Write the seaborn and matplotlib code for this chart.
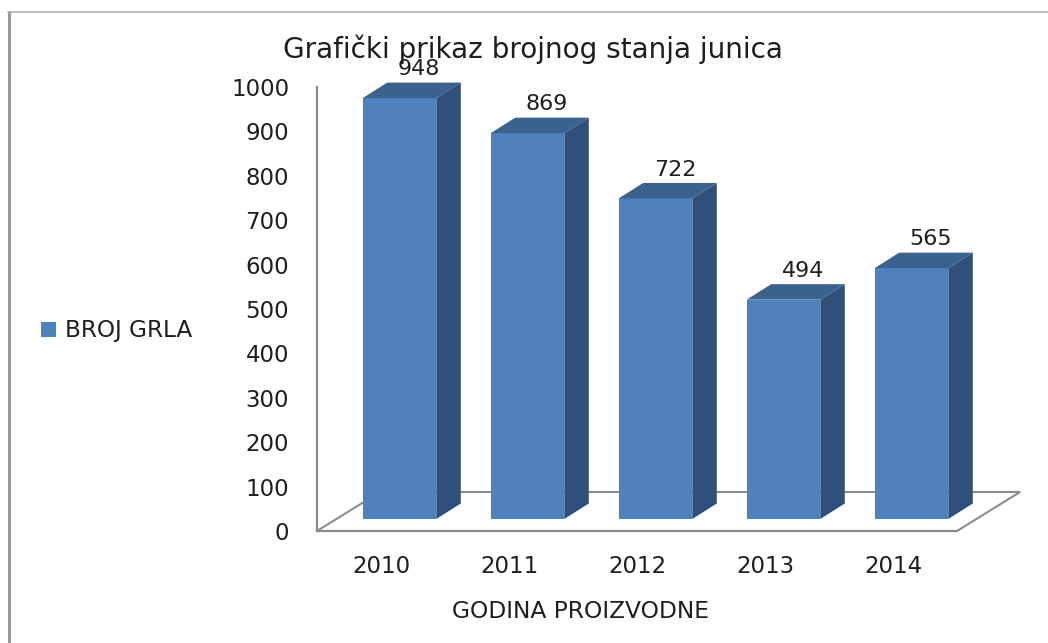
import matplotlib
matplotlib.use("Agg")
import matplotlib.pyplot as plt
from matplotlib.lines import Line2D
from matplotlib.patches import Polygon
import pandas as pd
import seaborn as sns

years = ["2010", "2011", "2012", "2013", "2014"]
broj_grla = [948, 869, 722, 494, 565]
yticks = list(range(0, 1001, 100))
title = "Grafički prikaz brojnog stanja junica"
xlabel = "GODINA PROIZVODNE"
series_name = "BROJ GRLA"

W, H = 1048, 643
FRONT, SIDE, TOP = "#4F81BD", "#2F5179", "#3B618F"
GRAY = "#8C8C8C"
TEXT = "#1E1E1E"

sns.set_theme(style="white")
plt.rcParams["font.family"] = ["DejaVu Sans"]
df = pd.DataFrame({"year": years, "value": broj_grla})
fig = plt.figure(figsize=(W / 100, H / 100), dpi=100, facecolor="white")


def px_axes(left, right, y0, y1000):
    return fig.add_axes([left / W, 1 - y0 / H, (right - left) / W, (y0 - y1000) / H])


# Front plane: axis lines, floor outline and tick labels
ax_back = px_axes(317, 957, 531, 87)
sns.barplot(data=df, x="year", y="value", ax=ax_back, alpha=0)
ax_back.set_ylim(0, 1000)
ax_back.set_yticks(yticks)
ax_back.set_xlabel(xlabel, fontsize=16.8, color=TEXT)
ax_back.xaxis.set_label_coords((580 - 317) / 640, -(611 - 531) / 444, transform=ax_back.transAxes)
ax_back.xaxis.label.set_va("center")
ax_back.set_ylabel("")
ax_back.tick_params(axis="y", length=0, pad=20, labelsize=16.5, labelcolor=TEXT)
ax_back.tick_params(axis="x", length=0, pad=17, labelsize=16.5, labelcolor=TEXT)
for name, sp in ax_back.spines.items():
    sp.set_visible(name in ("left", "bottom"))
    sp.set_color(GRAY)
    sp.set_linewidth(1.6)
floor_dx, floor_dy = 63 / 128, 39 / 0.444
ax_back.plot([-0.5, -0.5 + floor_dx, 4.5 + floor_dx, 4.5],
             [0, floor_dy, floor_dy, 0], color=GRAY, lw=1.5, clip_on=False, solid_joinstyle="miter")
ax_back.set_xlim(-0.5, 4.5)

# Bars, set back from the front plane
ax = px_axes(335.5, 975.5, 519, 75)
ax.patch.set_alpha(0)
sns.barplot(data=df, x="year", y="value", ax=ax, color=FRONT, saturation=1, width=0.575,
            label=series_name, edgecolor="none", linewidth=0)
ax.set_ylim(0, 1000)
ax.axis("off")
dx, dy = 24.5 / 128, 15.5 / 0.444
bars = list(ax.patches)
for bar, value in zip(bars, broj_grla):
    x0, x1 = bar.get_x(), bar.get_x() + bar.get_width()
    ax.add_patch(Polygon([(x1, 0), (x1 + dx, dy), (x1 + dx, value + dy), (x1, value)],
                         facecolor=SIDE, edgecolor="none", clip_on=False))
    ax.add_patch(Polygon([(x0, value), (x0 + dx, value + dy), (x1 + dx, value + dy), (x1, value)],
                         facecolor=TOP, edgecolor="none", clip_on=False))
    ax.annotate(str(value), (bar.get_x() + bar.get_width() / 2 + dx * 0.8, value + dy),
                xytext=(0, 9.5), textcoords="offset points", ha="center", va="center",
                fontsize=16, color=TEXT, annotation_clip=False)

leg = ax.legend(handles=[bars[0]], labels=[series_name], loc="center left",
                bbox_to_anchor=(41 / W, 1 - 331 / H), bbox_transform=fig.transFigure,
                frameon=False, fontsize=16.7, handlelength=0.65, handleheight=0.65,
                handletextpad=0.4, borderpad=0, borderaxespad=0, labelcolor=TEXT)

fig.text(533 / W, 1 - 49 / H, title, ha="center", va="center", fontsize=20.1, color=TEXT)

# Outer frame of the screenshot
fig.add_artist(Line2D([8.5 / W, 8.5 / W], [0, 1 - 12 / H], color="#9A9A9A", lw=2.2))
fig.add_artist(Line2D([8 / W, 1], [1 - 12 / H, 1 - 12 / H], color="#B0B0B0", lw=1.2))

fig.savefig("out.png", dpi=100, facecolor="white")
